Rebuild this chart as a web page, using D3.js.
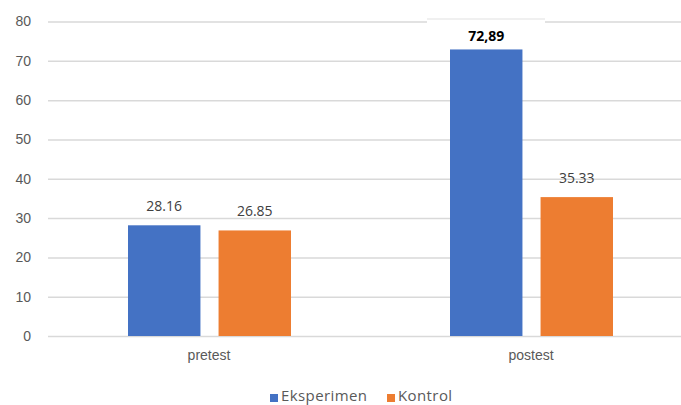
<!DOCTYPE html>
<html>
<head>
<meta charset="utf-8">
<script src="https://cdn.jsdelivr.net/npm/d3@7"></script>
<style>
  html, body { margin: 0; padding: 0; background: #fff; }
  svg { display: block; font-family: "Open Sans", "Noto Sans", sans-serif; }
</style>
</head>
<body>
<svg id="chart" width="681" height="405"></svg>
<script>
// Test phases and the two groups compared
const categories = ["pretest", "postest"];
const seriesNames = ["Eksperimen", "Kontrol"];
const eksperimen = [28.16, 72.89];
const kontrol = [26.85, 35.33];
// Value labels as printed on the bars
const labelEksperimen = ["28.16", "72,89"];
const labelKontrol = ["26.85", "35.33"];
const yTicks = [0, 10, 20, 30, 40, 50, 60, 70, 80];

const colors = { "Eksperimen": "#4472C4", "Kontrol": "#ED7D31" };

const rows = categories.map((c, i) => ({
  category: c,
  bars: [
    { series: "Eksperimen", value: eksperimen[i], label: labelEksperimen[i], bold: i === 1 },
    { series: "Kontrol", value: kontrol[i], label: labelKontrol[i], bold: false }
  ]
}));

const svg = d3.select("#chart");
const plotLeft = 48, plotRight = 692, plotTop = 21.5, plotBottom = 336;

const x0 = d3.scaleBand().domain(categories).range([plotLeft, plotRight]).padding(0);
const groupOffset = 80, groupWidth = 163;
const x1 = d3.scaleBand().domain(seriesNames).range([0, groupWidth]).paddingInner(0.2);
const y = d3.scaleLinear().domain([0, 80]).range([plotBottom, plotTop]);

// Horizontal gridlines with value ticks
const yAxis = d3.axisLeft(y).tickValues(yTicks).tickSize(-(plotRight - plotLeft)).tickPadding(17);
const gy = svg.append("g").attr("transform", `translate(${plotLeft},0)`).call(yAxis);
gy.select(".domain").remove();
gy.selectAll(".tick line").attr("stroke", "#d9d9d9").attr("stroke-width", 1.5);
gy.selectAll(".tick text").attr("fill", "#595959").attr("font-size", 14);

// small step in the top gridline above the tallest bar
svg.append("rect").attr("x", 427).attr("y", y(80) - 1.5).attr("width", 118).attr("height", 3).attr("fill", "#fff");
svg.append("line").attr("x1", 427).attr("x2", 545).attr("y1", y(80) - 2.5).attr("y2", y(80) - 2.5)
  .attr("stroke", "#e2e2e2").attr("stroke-width", 1.2);

// Bars
const groups = svg.append("g").selectAll("g").data(rows).join("g")
  .attr("transform", d => `translate(${x0(d.category) + groupOffset},0)`);

groups.selectAll("rect").data(d => d.bars).join("rect")
  .attr("x", d => x1(d.series))
  .attr("width", x1.bandwidth())
  .attr("y", d => y(d.value))
  .attr("height", d => y(0) - y(d.value))
  .attr("fill", d => colors[d.series]);

// Value labels
groups.selectAll("text").data(d => d.bars).join("text")
  .attr("x", d => x1(d.series) + x1.bandwidth() / 2)
  .attr("y", d => y(d.value) - (d.bold ? 8 : 14))
  .attr("text-anchor", "middle")
  .attr("font-size", 14)
  .attr("font-weight", d => d.bold ? "bold" : "normal")
  .attr("fill", d => d.bold ? "#000" : "#404040")
  .text(d => d.label);

// Category labels
const xAxis = d3.axisBottom(x0).tickSize(0).tickPadding(14);
const gx = svg.append("g").attr("transform", `translate(0,${plotBottom})`).call(xAxis);
gx.select(".domain").remove();
gx.selectAll(".tick text").attr("fill", "#595959").attr("font-size", 14);

// Legend
const legend = svg.append("g").attr("transform", "translate(270,397)");
const legendX = { "Eksperimen": 0, "Kontrol": 117 };
const items = legend.selectAll("g").data(seriesNames).join("g")
  .attr("transform", d => `translate(${legendX[d]},0)`);
items.append("rect").attr("x", 0).attr("y", -3).attr("width", 8).attr("height", 8)
  .attr("fill", d => colors[d]);
items.append("text").attr("x", 11).attr("y", 4).attr("font-size", 15)
  .attr("letter-spacing", 0.4)
  .attr("fill", "#595959").text(d => d);
</script>
</body>
</html>
